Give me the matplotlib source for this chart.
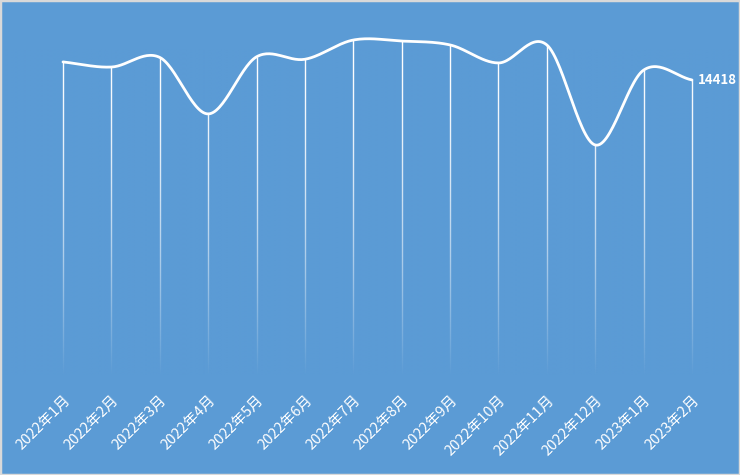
import numpy as np
import matplotlib
matplotlib.use('Agg')
from matplotlib import pyplot as plt
from matplotlib.colors import to_rgb
from matplotlib.patches import Rectangle

plt.rcParams['font.family'] = ['Noto Sans CJK SC', 'DejaVu Sans']

# dati
months = ['2022年1月', '2022年2月', '2022年3月', '2022年4月', '2022年5月', '2022年6月',
          '2022年7月', '2022年8月', '2022年9月', '2022年10月', '2022年11月', '2022年12月',
          '2023年1月', '2023年2月']
values = [15300, 15050, 15520, 12760, 15550, 15430, 16370, 16320, 16130, 15250,
          16130, 11240, 14900, 14418]

bg = '#5B9BD5'

# curva smussata (Catmull-Rom) tra i punti
def smooth(x, y, steps=30):
    x = np.asarray(x, float)
    y = np.asarray(y, float)
    px = np.concatenate([[2 * x[0] - x[1]], x, [2 * x[-1] - x[-2]]])
    py = np.concatenate([[2 * y[0] - y[1]], y, [2 * y[-1] - y[-2]]])
    xs, ys = [], []
    for i in range(1, len(px) - 2):
        t = np.linspace(0, 1, steps, endpoint=False)
        for p, out in ((px, xs), (py, ys)):
            p0, p1, p2, p3 = p[i - 1], p[i], p[i + 1], p[i + 2]
            out.append(0.5 * (2 * p1 + (-p0 + p2) * t + (2 * p0 - 5 * p1 + 4 * p2 - p3) * t ** 2
                              + (-p0 + 3 * p1 - 3 * p2 + p3) * t ** 3))
    xs.append([x[-1]])
    ys.append([y[-1]])
    return np.concatenate(xs), np.concatenate(ys)

x = np.arange(len(months))

fig = plt.figure(figsize=(7.4, 4.75), dpi=100, facecolor=bg)
ax = fig.add_axes([0, 100 / 475, 1, 375 / 475])
ax.set_facecolor(bg)

step = 48.38
x0, x1 = -63 / step, 13 + 48 / step
ytop = 375 * 48.87
ax.set_xlim(x0, x1)
ax.set_ylim(0, ytop)

# linee verticali, poi una velatura col colore di fondo per la sfumatura
ax.vlines(x, 0, values, color='white', lw=1.0, zorder=1)
h = 300
t = np.linspace(0, 1, h)[:, None]  # 0 in alto, 1 in basso
fade = np.zeros((h, 2, 4))
fade[..., :3] = to_rgb(bg)
fade[..., 3] = np.clip((t - 0.1) / 0.9, 0, 1) ** 1.6
ax.imshow(fade, extent=(x0, x1, 0, ytop), aspect='auto', origin='upper',
          interpolation='bilinear', zorder=2)

sx, sy = smooth(x, values)
ax.plot(sx, sy, color='white', lw=2.0, solid_capstyle='round', zorder=3)

ax.text(x[-1] + 0.13, values[-1], f'{values[-1]}', color='white', fontsize=9.5,
        fontweight='bold', va='center', ha='left', zorder=3)

ax.set_xticks(x)
ax.set_xticklabels(months, rotation=45, ha='right', va='top', rotation_mode='anchor',
                   color='white', fontsize=10.5)
ax.tick_params(axis='x', length=0, pad=13)
ax.set_yticks([])
for s in ax.spines.values():
    s.set_visible(False)

fig.patches.append(Rectangle((0, 0), 1, 1, transform=fig.transFigure, fill=False,
                             edgecolor='#d9d9d9', lw=2.5))

fig.savefig('out.png', dpi=100, facecolor=bg)
